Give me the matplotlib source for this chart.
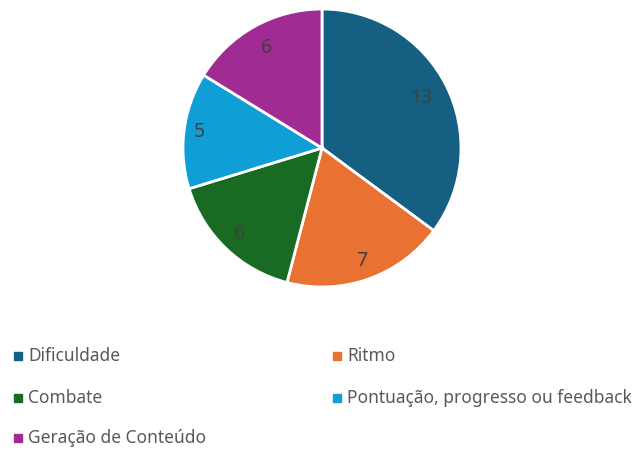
import matplotlib
matplotlib.use('Agg')
import matplotlib.pyplot as plt
from matplotlib.patches import Rectangle
import numpy as np

labels = ['Dificuldade', 'Ritmo', 'Combate', 'Pontuação, progresso ou feedback', 'Geração de Conteúdo']
values = [13, 7, 6, 5, 6]
colors = ['#156082', '#E97132', '#196B24', '#0F9ED5', '#A02B93']

plt.rcParams['font.family'] = ['Noto Sans', 'DejaVu Sans']

fig = plt.figure(figsize=(6.43, 4.5), dpi=100)
ax = fig.add_axes([183/643, 1 - 287/450, 278/643, 278/450])

wedges, texts = ax.pie(values, colors=colors, startangle=90, counterclock=False,
                       labels=[str(v) for v in values], labeldistance=0.84,
                       wedgeprops=dict(edgecolor='white', linewidth=2),
                       textprops=dict(color='#404040', fontsize=14))
# excel "best fit" puts the labels at slightly different radii
label_r = [0.80, 0.86, 0.86, 0.89, 0.82]
for w, t, r in zip(wedges, texts, label_r):
    ang = np.deg2rad((w.theta1 + w.theta2) / 2)
    t.set_position((r * np.cos(ang), r * np.sin(ang)))
    t.set_horizontalalignment('center')
    t.set_verticalalignment('center')
ax.set_xlim(-1.0, 1.0)
ax.set_ylim(-1.0, 1.0)
ax.set_aspect('equal')

# legend, two columns, row-wise
col_x = [14, 333]
row_y = [356, 398, 438]
for i, (name, c) in enumerate(zip(labels, colors)):
    r, k = i // 2, i % 2
    x = col_x[k]
    y = row_y[r]
    fig.patches.append(Rectangle((x / 643, 1 - (y + 4) / 450), 8 / 643, 8 / 450,
                                 transform=fig.transFigure, color=c))
    fig.text((x + 14) / 643, 1 - y / 450, name, fontsize=12.5, color='#595959',
             va='center', ha='left')

fig.savefig('out.png', dpi=100)
